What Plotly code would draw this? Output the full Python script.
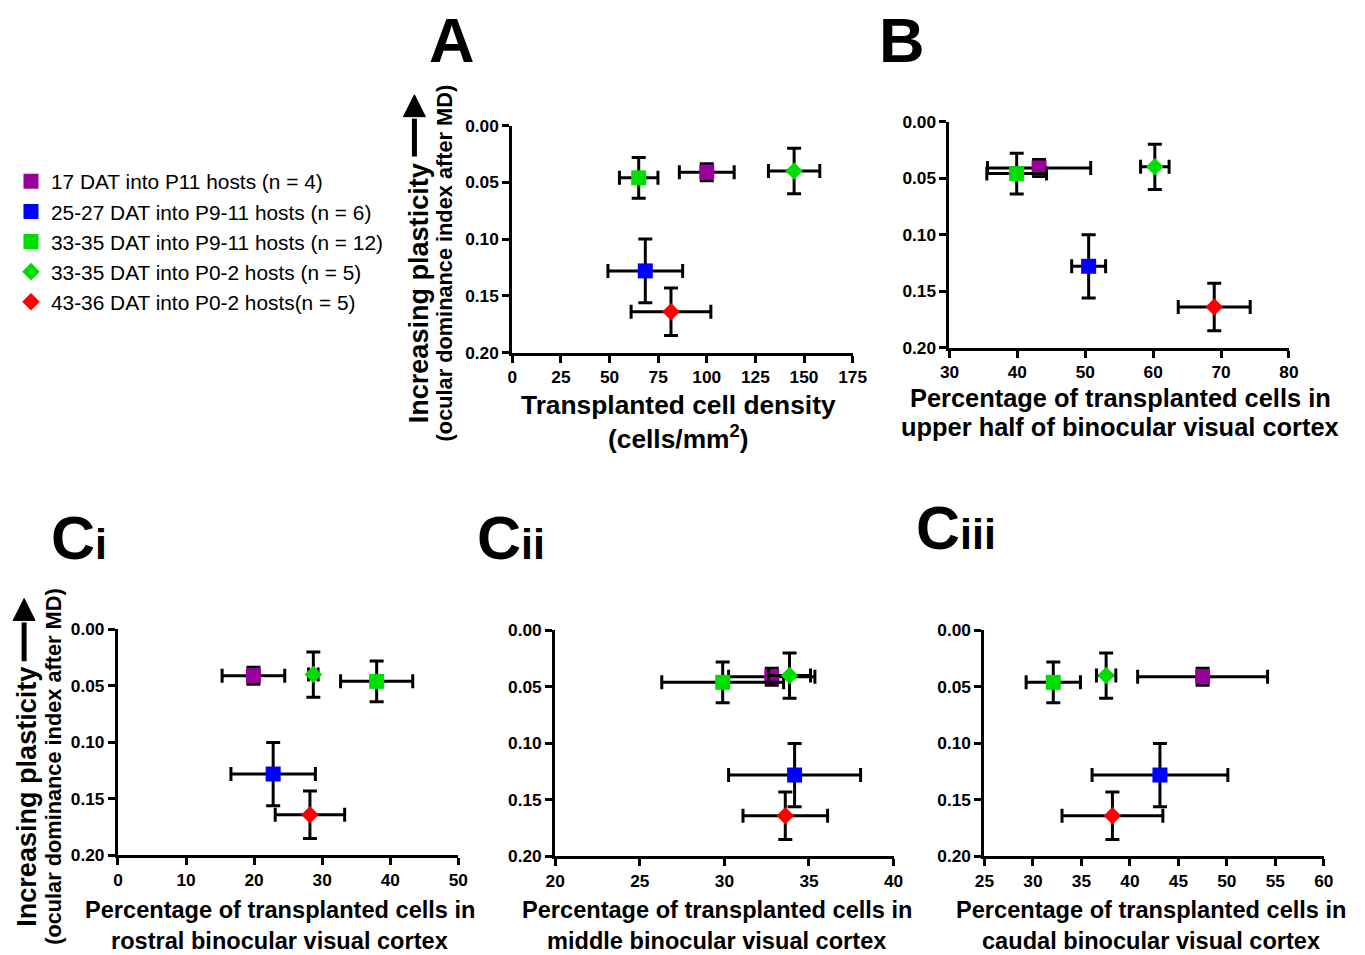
import plotly.graph_objects as go

W, H = 1365, 955
# The photographed page shows the figure after the browser's 8px body margin and
# a slight uniform down-scaling; positions below are given in photographed pixels
# and converted to paper fractions with this mapping.
PAGE_MARGIN = 8
SHOT_SCALE = 0.9834

# ---------------- data ----------------
series = [
    "17 DAT into P11 hosts (n = 4)",
    "25-27 DAT into P9-11 hosts (n = 6)",
    "33-35 DAT into P9-11 hosts (n = 12)",
    "33-35 DAT into P0-2 hosts (n = 5)",
    "43-36 DAT into P0-2 hosts(n = 5)",
]
colors = ["#990099", "#0000FF", "#00DD00", "#00DD00", "#FF0000"]
symbols = ["square", "square", "square", "diamond", "diamond"]

od_mean = [0.041, 0.128, 0.046, 0.040, 0.164]
od_sem = [0.0075, 0.028, 0.018, 0.020, 0.021]

density = [100.0, 68.4, 65.0, 144.9, 81.6]
density_sem = [14.1, 19.2, 9.9, 13.2, 20.5]

upper_half = [43.2, 50.5, 39.9, 60.25, 69.0]
upper_half_sem = [7.6, 2.5, 4.4, 2.1, 5.3]

rostral = [19.9, 22.8, 38.0, 28.7, 28.2]
rostral_sem = [4.6, 6.2, 5.3, 0.7, 5.1]

middle = [32.8, 34.15, 29.9, 33.85, 33.6]
middle_sem = [2.55, 3.9, 3.6, 1.24, 2.5]

caudal = [47.5, 43.1, 32.1, 37.55, 38.2]
caudal_sem = [6.7, 7.0, 2.8, 1.0, 5.2]

y_ticks = [0.0, 0.05, 0.10, 0.15, 0.20]

# ---------------- layout helpers ----------------
FONT = "Liberation Sans, Arial, Helvetica, sans-serif"


def lx(x):
    return x / SHOT_SCALE - PAGE_MARGIN


def px(x):
    return lx(x) / W


def py(y):
    return 1 - lx(y) / H


def fs(size):
    return round(size / SHOT_SCALE, 2)


# plot areas in photographed pixels: (left, right, top, bottom)
panels = [
    dict(x=density, xe=density_sem, rng=[0, 175], dt=25, box=(511, 852, 124, 352)),
    dict(x=upper_half, xe=upper_half_sem, rng=[30, 80], dt=10, box=(949, 1289, 120, 347)),
    dict(x=rostral, xe=rostral_sem, rng=[0, 50], dt=10, box=(116, 457, 630, 857)),
    dict(x=middle, xe=middle_sem, rng=[20, 40], dt=5, box=(554, 893, 631, 858)),
    dict(x=caudal, xe=caudal_sem, rng=[25, 60], dt=5, box=(984, 1324, 631, 858)),
]

fig = go.Figure()
layout = {}

for i, p in enumerate(panels):
    xa = "x" if i == 0 else f"x{i+1}"
    ya = "y" if i == 0 else f"y{i+1}"
    l, r, t, b = p["box"]
    axis_common = dict(
        showline=True, linecolor="black", linewidth=3,
        ticks="outside", ticklen=7, tickwidth=3, tickcolor="black",
        showgrid=False, zeroline=False,
        tickfont=dict(family=FONT, size=fs(17), color="black", weight="bold"),
    )
    layout["xaxis" if i == 0 else f"xaxis{i+1}"] = dict(
        domain=[px(l), px(r)], range=p["rng"], dtick=p["dt"], tick0=p["rng"][0],
        anchor=ya, **axis_common)
    layout["yaxis" if i == 0 else f"yaxis{i+1}"] = dict(
        domain=[py(b), py(t)], range=[0.2, 0.0], tickvals=y_ticks, tickformat=".2f",
        anchor=xa, **axis_common)
    for j in range(len(series)):
        fig.add_trace(go.Scatter(
            x=[p["x"][j]], y=[od_mean[j]], mode="markers",
            name=series[j], legendgroup=series[j], showlegend=(i == 0),
            marker=dict(symbol=symbols[j], color=colors[j],
                        size=15 if symbols[j] == "square" else 13.5, line=dict(width=0)),
            error_x=dict(type="data", array=[p["xe"][j]], color="black", thickness=3, width=7),
            error_y=dict(type="data", array=[od_sem[j]], color="black", thickness=3, width=7),
            xaxis=xa, yaxis=ya, cliponaxis=False,
        ))

ann = []
shapes = []


def text(x, y, s, size, bold=True, angle=0):
    ann.append(dict(xref="paper", yref="paper", x=px(x), y=py(y), text=s, showarrow=False,
                    textangle=angle, xanchor="center", yanchor="middle",
                    font=dict(family=FONT, size=fs(size), color="black",
                              weight="bold" if bold else "normal")))


def arrow(x, y_tip, y_base, y_tail, half_w=11):
    shapes.append(dict(type="line", xref="paper", yref="paper",
                       x0=px(x), x1=px(x), y0=py(y_tail), y1=py(y_base + 2),
                       line=dict(color="black", width=5)))
    path = (f"M {px(x)},{py(y_tip)} L {px(x - half_w)},{py(y_base)} "
            f"L {px(x + half_w)},{py(y_base)} Z")
    shapes.append(dict(type="path", xref="paper", yref="paper", path=path,
                       fillcolor="black", line=dict(color="black", width=1)))


# panel letters
text(451, 38, "A", 62)
text(901, 38, "B", 62)
text(77, 538, "C<span style='font-size:43px'>i</span>", 60)
text(510, 538, "C<span style='font-size:43px'>ii</span>", 60)
text(956, 528, "C<span style='font-size:43px'>iii</span>", 60)

# x-axis titles
text(678, 405, "Transplanted cell density", 25.9)
text(678, 437, "(cells/mm<sup>2</sup>)", 25.9)
text(1120, 398, "Percentage of transplanted cells in", 25.0)
text(1120, 427, "upper half of binocular visual cortex", 25.0)
for cx, t2 in [(278, "rostral binocular visual cortex"),
               (716, "middle binocular visual cortex"),
               (1151, "caudal binocular visual cortex")]:
    text(cx, 912, "Percentage of transplanted cells in", 23.2)
    text(cx, 943, t2, 23.2)

# y-axis titles with arrows
text(417, 292, "Increasing plasticity", 26.6, angle=-90)
text(443, 262, "(ocular dominance index after MD)", 21.4, angle=-90)
arrow(413, 93, 115, 155)
text(25, 798, "Increasing plasticity", 26.6, angle=-90)
text(52, 768, "(ocular dominance index after MD)", 21.4, angle=-90)
arrow(22, 599, 621, 662)

fig.update_layout(
    width=W, height=H, margin=dict(l=0, r=0, t=0, b=0),
    paper_bgcolor="white", plot_bgcolor="white",
    annotations=ann, shapes=shapes,
    legend=dict(x=1 / W, y=1 - 154.5 / H, xanchor="left", yanchor="top",
                font=dict(family=FONT, size=fs(20.5), color="black"),
                bgcolor="rgba(0,0,0,0)", tracegroupgap=0),
    **layout,
)

fig.write_html("out.html")
